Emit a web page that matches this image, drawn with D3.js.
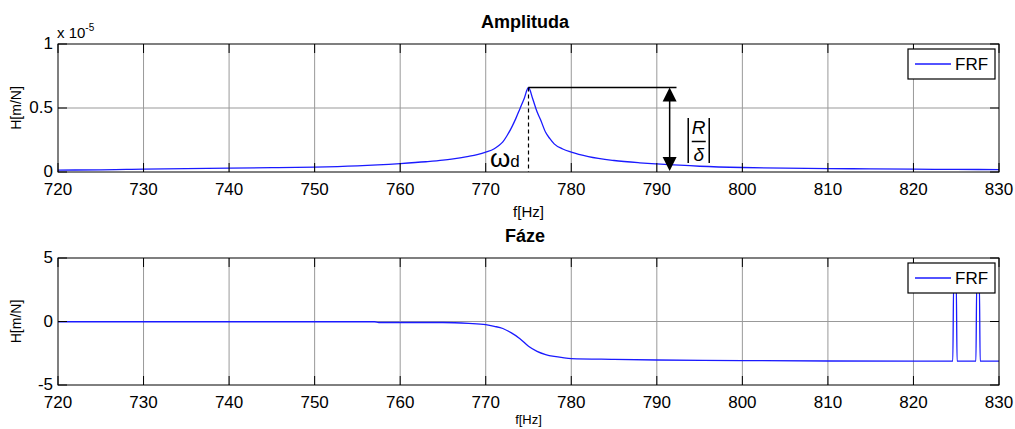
<!DOCTYPE html>
<html>
<head>
<meta charset="utf-8">
<title>FRF</title>
<style>
  body { margin: 0; background: #fff; }
  text { font-family: Arial, "Liberation Sans", sans-serif; }
</style>
</head>
<body>
<script src="https://d3js.org/d3.v7.min.js"></script>
<script>
// frequency [Hz] and amplitude (x 1e-5 m/N)
const ampFreq = [720, 725, 728, 730, 735, 740, 745, 750, 755, 760, 763, 765, 766, 768, 769, 770, 771, 771.5, 772, 772.5, 773, 773.5, 774, 774.5, 775,
  775.5, 776, 776.4, 777, 777.5, 778, 779, 780, 782, 785, 788, 790, 795, 800, 805, 810, 815, 820, 825, 830];
const ampVal = [0.015, 0.017, 0.02, 0.022, 0.026, 0.03, 0.034, 0.038, 0.048, 0.066, 0.08, 0.092, 0.1, 0.122, 0.136, 0.155, 0.182, 0.205, 0.235, 0.285, 0.345, 0.415, 0.495, 0.575, 0.66,
  0.57, 0.47, 0.41, 0.31, 0.26, 0.22, 0.18, 0.155, 0.12, 0.09, 0.072, 0.063, 0.045, 0.035, 0.03, 0.027, 0.024, 0.022, 0.02, 0.019];

// frequency [Hz] and phase
const phFreq = [720, 740, 757, 757.5, 765, 768, 770, 771, 772, 773, 774, 775, 776, 777, 778, 779, 780, 785, 790, 800, 810, 824.6,
  824.7, 825.0, 825.1, 827.3, 827.4, 827.7, 827.8, 830];
const phVal = [-0.02, -0.02, -0.02, -0.08, -0.08, -0.15, -0.25, -0.38, -0.55, -0.9, -1.35, -1.95, -2.35, -2.6, -2.75, -2.85, -2.92, -2.98, -3.03, -3.08, -3.11, -3.12,
  3.14, 3.14, -3.12, -3.12, 3.14, 3.14, -3.12, -3.12];

const xTicks = [720, 730, 740, 750, 760, 770, 780, 790, 800, 810, 820, 830];
const ampTicks = [0, 0.5, 1];
const phTicks = [-5, 0, 5];

const W = 1015, H = 429;
const svg = d3.select("body").append("svg").attr("width", W).attr("height", H);

const x = d3.scaleLinear().domain([720, 830]).range([58, 999]);
const yA = d3.scaleLinear().domain([0, 1]).range([172, 44]);
const yP = d3.scaleLinear().domain([-5, 5]).range([385, 258]);

function panel(y, yTicks, yFmt, fr, vals, title, labSize, labY) {
  const [y0, y1] = y.range();
  const g = svg.append("g");
  // grid
  g.selectAll(".gx").data(xTicks.slice(1, -1)).enter().append("line")
    .attr("x1", d => x(d)).attr("x2", d => x(d)).attr("y1", y1).attr("y2", y0)
    .attr("stroke", "#999").attr("stroke-width", 1);
  g.selectAll(".gy").data(yTicks.slice(1, -1)).enter().append("line")
    .attr("x1", x(720)).attr("x2", x(830)).attr("y1", d => y(d)).attr("y2", d => y(d))
    .attr("stroke", "#999").attr("stroke-width", 1);

  // data line
  const line = d3.line().x((d, i) => x(fr[i])).y(d => y(d)).curve(d3.curveMonotoneX);
  g.append("path").datum(vals).attr("d", line)
    .attr("fill", "none").attr("stroke", "#1a1aff").attr("stroke-width", 1.3);

  // box + inward ticks
  const tl = 9;
  g.append("rect").attr("x", x(720)).attr("y", y1).attr("width", x(830) - x(720)).attr("height", y0 - y1)
    .attr("fill", "none").attr("stroke", "#000").attr("stroke-width", 1);
  xTicks.forEach(t => {
    g.append("line").attr("x1", x(t)).attr("x2", x(t)).attr("y1", y0).attr("y2", y0 - tl).attr("stroke", "#000");
    g.append("line").attr("x1", x(t)).attr("x2", x(t)).attr("y1", y1).attr("y2", y1 + tl).attr("stroke", "#000");
  });
  yTicks.forEach(t => {
    g.append("line").attr("x1", x(720)).attr("x2", x(720) + tl).attr("y1", y(t)).attr("y2", y(t)).attr("stroke", "#000");
    g.append("line").attr("x1", x(830)).attr("x2", x(830) - tl).attr("y1", y(t)).attr("y2", y(t)).attr("stroke", "#000");
  });
  // tick labels
  g.selectAll(".xl").data(xTicks).enter().append("text")
    .attr("x", d => x(d)).attr("y", y0 + 23).attr("text-anchor", "middle")
    .attr("font-size", 17).text(d => d);
  g.selectAll(".yl").data(yTicks).enter().append("text")
    .attr("x", x(720) - 5).attr("y", d => y(d) + 5).attr("text-anchor", "end")
    .attr("font-size", 17).text(yFmt);
  // labels
  g.append("text").attr("x", x(775)).attr("y", labY).attr("text-anchor", "middle")
    .attr("font-size", labSize).text("f[Hz]");
  g.append("text").attr("transform", `translate(21,${(y0 + y1) / 2}) rotate(-90)`)
    .attr("text-anchor", "middle").attr("font-size", 14).text("H[m/N]");
  g.append("text").attr("x", 525).attr("y", y1 - 16).attr("text-anchor", "middle")
    .attr("font-size", 18).attr("font-weight", "bold").text(title);

  // legend
  const lx = 908, ly = y1 + 5;
  g.append("rect").attr("x", lx).attr("y", ly).attr("width", 87).attr("height", 30)
    .attr("fill", "#fff").attr("stroke", "#000").attr("stroke-width", 1.2);
  g.append("line").attr("x1", lx + 7).attr("x2", lx + 43).attr("y1", ly + 15).attr("y2", ly + 15)
    .attr("stroke", "#1a1aff").attr("stroke-width", 1.3);
  g.append("text").attr("x", lx + 47).attr("y", ly + 21).attr("font-size", 17).text("FRF");
  return g;
}

panel(yA, ampTicks, d => d, ampFreq, ampVal, "Amplituda", 15, 217);
panel(yP, phTicks, d => d, phFreq, phVal, "Fáze", 13, 424);

// exponent label
const ex = svg.append("text").attr("x", 57).attr("y", 38).attr("font-size", 15);
ex.append("tspan").text("x 10");
ex.append("tspan").attr("dy", -7).attr("font-size", 10).text("-5");

// annotation on amplitude peak
const peakF = 775, peakV = d3.max(ampVal);
const px = x(peakF), py = yA(peakV), ax = x(791.5);
const ann = svg.append("g");
ann.append("line").attr("x1", px).attr("x2", px).attr("y1", py).attr("y2", yA(0))
  .attr("stroke", "#000").attr("stroke-width", 1.2).attr("stroke-dasharray", "4,3");
ann.append("line").attr("x1", px).attr("x2", x(792.3)).attr("y1", py).attr("y2", py)
  .attr("stroke", "#000").attr("stroke-width", 1.5);
ann.append("line").attr("x1", ax).attr("x2", ax).attr("y1", py + 10).attr("y2", yA(0) - 10)
  .attr("stroke", "#000").attr("stroke-width", 1.5);
ann.append("path").attr("d", `M${ax},${py} L${ax - 7},${py + 14} L${ax + 7},${py + 14} Z`).attr("fill", "#000");
ann.append("path").attr("d", `M${ax},${yA(0) - 1} L${ax - 7},${yA(0) - 15} L${ax + 7},${yA(0) - 15} Z`).attr("fill", "#000");

// |R/delta|
const fx = x(794.9);
ann.append("line").attr("x1", fx - 10.5).attr("x2", fx - 10.5).attr("y1", 118).attr("y2", 163).attr("stroke", "#000").attr("stroke-width", 1.5);
ann.append("line").attr("x1", fx + 10.5).attr("x2", fx + 10.5).attr("y1", 118).attr("y2", 163).attr("stroke", "#000").attr("stroke-width", 1.5);
ann.append("line").attr("x1", fx - 7).attr("x2", fx + 7).attr("y1", 141.5).attr("y2", 141.5).attr("stroke", "#000").attr("stroke-width", 1.5);
ann.append("text").attr("x", fx).attr("y", 134).attr("text-anchor", "middle")
  .attr("font-size", 19).attr("font-style", "italic").attr("font-family", "'Liberation Serif', 'DejaVu Serif', serif").text("R");
ann.append("text").attr("x", fx).attr("y", 161).attr("text-anchor", "middle")
  .attr("font-size", 19).attr("font-style", "italic").attr("font-family", "'Liberation Serif', 'DejaVu Serif', serif").text("δ");

// omega_d
const om = ann.append("text").attr("x", 490).attr("y", 167).attr("font-family", "'Liberation Serif', 'DejaVu Serif', serif");
om.append("tspan").attr("font-size", 26).text("ω");
om.append("tspan").attr("font-size", 17).text("d");
</script>
</body>
</html>
